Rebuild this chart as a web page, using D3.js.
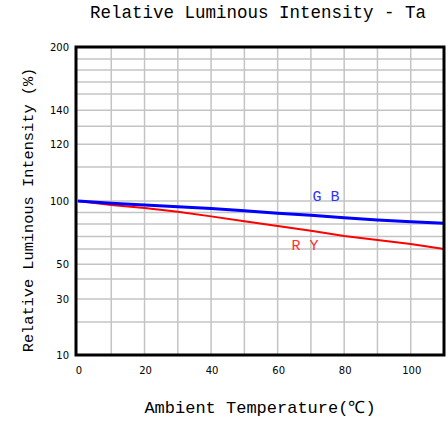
<!DOCTYPE html>
<html>
<head>
<meta charset="utf-8">
<script src="https://cdn.jsdelivr.net/npm/d3@7"></script>
<style>
  body { margin: 0; background: #fff; }
  svg { display: block; }
  .grid line { stroke: #c4c4c4; stroke-width: 1.5; }
  .tick-label { font-family: "DejaVu Sans", sans-serif; font-size: 10px; fill: #000; }
  .title { font-family: "Liberation Mono", monospace; fill: #000; }
</style>
</head>
<body>
<svg id="chart" width="448" height="423"></svg>
<script>
// data
const temps = [0, 10, 20, 30, 40, 50, 60, 70, 80, 90, 100, 110];
const seriesGB = [100, 98, 96.5, 95, 93.5, 91.5, 89.3, 87.5, 85.5, 83.6, 82.1, 80.7];
const seriesRY = [100, 96.5, 93.8, 90.6, 86.6, 82.4, 78.4, 74.6, 70.4, 67.1, 64, 60];
const xTicks = [0, 20, 40, 60, 80, 100];
const xGrid = [10, 20, 30, 40, 50, 60, 70, 80, 90, 100];
const yTicks = [10, 30, 50, 100, 120, 140, 200];
const yGrid = [20, 30, 40, 50, 60, 70, 80, 90, 100, 110, 120, 130, 140, 152, 164, 176, 188];

const svg = d3.select('#chart');
const plotL = 77, plotR = 444, plotT = 47, plotB = 355;

const x = d3.scaleLinear().domain([0, 110]).range([plotL + 1, plotR]);

// the chart uses an uneven, piecewise vertical scale
const yStops = [10, 20, 30, 40, 50, 60, 70, 80, 90, 100, 110, 120, 130, 140, 152, 164, 176, 188, 200];
const yFrac = [0, 0.107, 0.182, 0.247, 0.295, 0.344, 0.385, 0.425, 0.463, 0.5, 0.61, 0.684, 0.743, 0.795, 0.847, 0.886, 0.925, 0.961, 1];
const y = d3.scaleLinear().domain(yStops).range(yFrac.map(f => plotB - f * (plotB - plotT)));

// grid
const grid = svg.append('g').attr('class', 'grid');
grid.selectAll('.gx').data(xGrid).enter().append('line')
  .attr('x1', d => x(d)).attr('x2', d => x(d))
  .attr('y1', plotT).attr('y2', plotB);
grid.selectAll('.gy').data(yGrid).enter().append('line')
  .attr('y1', d => y(d)).attr('y2', d => y(d))
  .attr('x1', plotL).attr('x2', plotR);

// lines
const line = d3.line().x((d, i) => x(temps[i])).y(d => y(d));
svg.append('path').datum(seriesRY)
  .attr('d', line).attr('fill', 'none').attr('stroke', '#ff0000').attr('stroke-width', 2);
svg.append('path').datum(seriesGB)
  .attr('d', line).attr('fill', 'none').attr('stroke', '#0000ff').attr('stroke-width', 3);

// series labels
svg.append('text').attr('x', x(70.5)).attr('y', y(99.6)).attr('fill', '#3030ff')
  .attr('font-family', 'Liberation Mono, monospace').attr('font-size', 15).text('G B');
svg.append('text').attr('x', x(64.2)).attr('y', y(59.2)).attr('fill', '#ff3030')
  .attr('font-family', 'Liberation Mono, monospace').attr('font-size', 15).text('R Y');

// frame
svg.append('rect').attr('x', plotL - 1).attr('y', plotT).attr('width', plotR - plotL + 1).attr('height', plotB - plotT)
  .attr('fill', 'none').attr('stroke', '#000').attr('stroke-width', 3);

// axes labels
svg.append('g').selectAll('text').data(yTicks).enter().append('text')
  .attr('class', 'tick-label').attr('x', 69).attr('y', d => y(d) + 4)
  .attr('text-anchor', 'end').text(d => d);
svg.append('g').selectAll('text').data(xTicks).enter().append('text')
  .attr('class', 'tick-label').attr('x', d => x(d) + 1).attr('y', 374)
  .attr('text-anchor', 'middle').text(d => d);

// titles
svg.append('text').attr('class', 'title').attr('x', 258).attr('y', 18)
  .attr('text-anchor', 'middle').attr('font-size', 17.5).text('Relative Luminous Intensity - Ta');
svg.append('text').attr('class', 'title').attr('x', 260).attr('y', 413)
  .attr('text-anchor', 'middle').attr('font-size', 17).text('Ambient Temperature(℃)');
svg.append('text').attr('class', 'title')
  .attr('transform', 'translate(33,210) rotate(-90)')
  .attr('text-anchor', 'middle').attr('font-size', 15.3).text('Relative Luminous Intensity (%)');
</script>
</body>
</html>
